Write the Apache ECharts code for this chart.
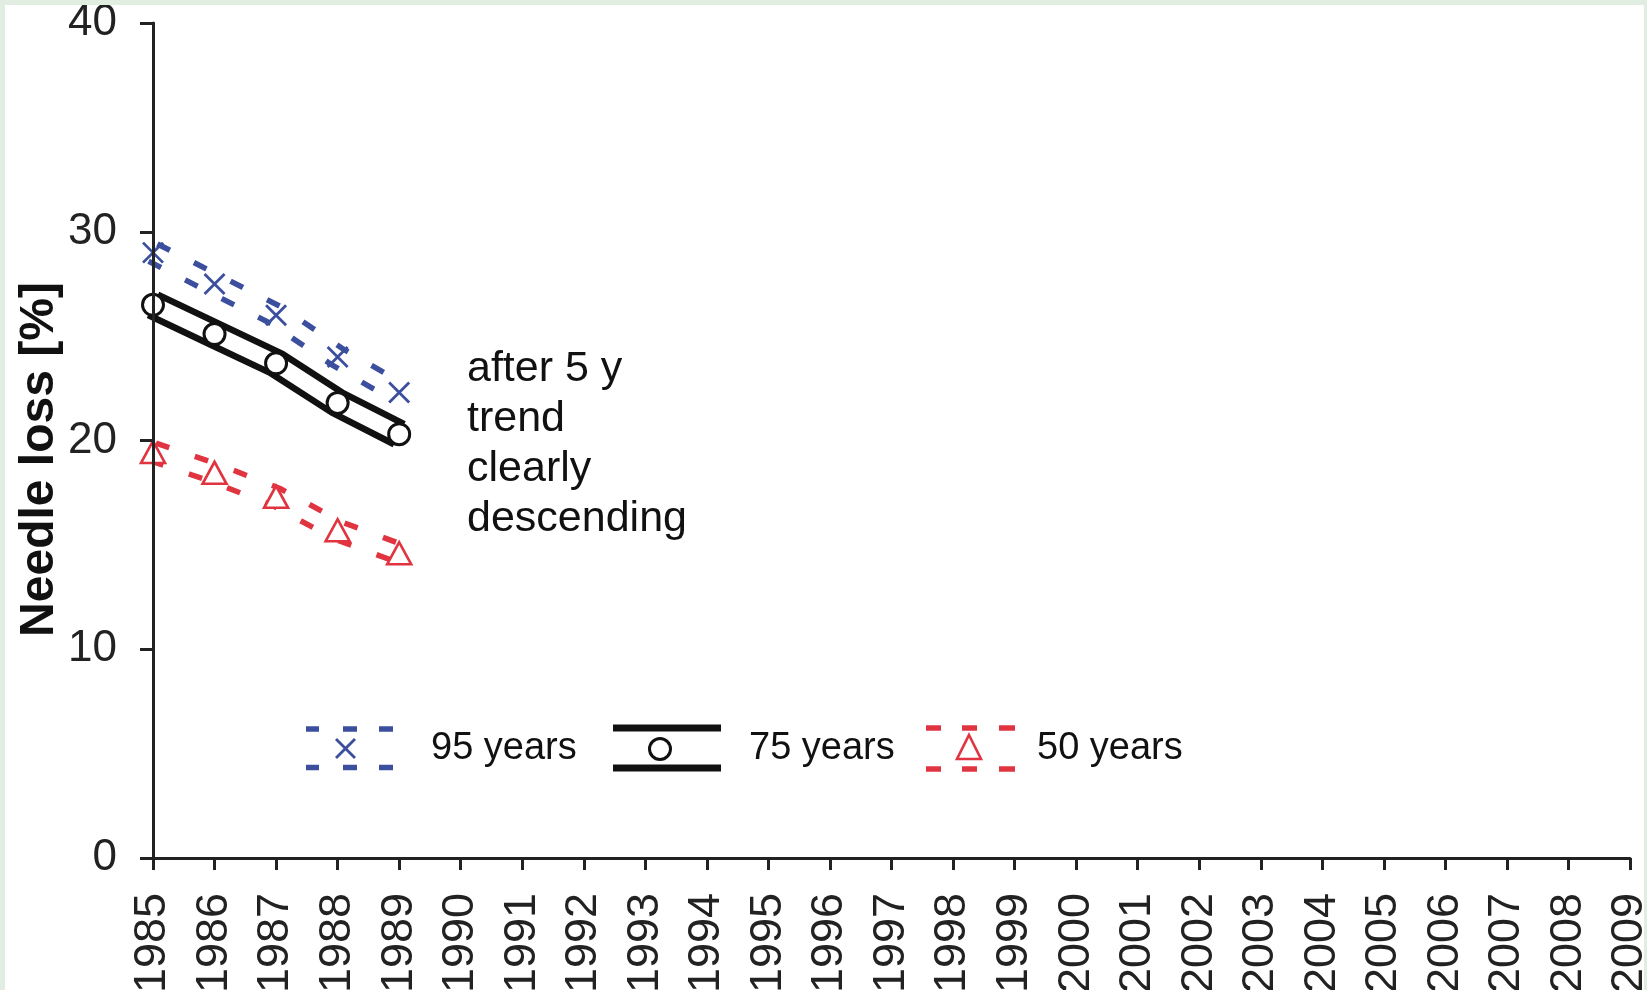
<!DOCTYPE html>
<html>
<head>
<meta charset="utf-8">
<script src="https://cdn.jsdelivr.net/npm/echarts@6/dist/echarts.min.js"></script>
<style>
  html, body { margin: 0; padding: 0; background: #e2ede1; width: 1647px; height: 990px; overflow: hidden; }
  #chart { position: absolute; left: 5px; top: 5px; width: 1639px; height: 985px; background: #ffffff; }
</style>
</head>
<body>
<div id="chart"></div>
<script>
// ---- data ----
const years = ['1985','1986','1987','1988','1989','1990','1991','1992','1993','1994','1995','1996','1997',
               '1998','1999','2000','2001','2002','2003','2004','2005','2006','2007','2008','2009'];
const seriesNames = ['95 years', '75 years', '50 years'];
const loss95 = [29.0, 27.5, 26.0, 24.0, 22.3];
const loss75 = [26.5, 25.1, 23.7, 21.8, 20.3];
const loss50 = [19.45, 18.45, 17.3, 15.7, 14.6];
const yMin = 0, yMax = 40, yStep = 10;
const yAxisTitle = 'Needle loss [%]';
const noteLines = ['after 5 y', 'trend', 'clearly', 'descending'];

// ---- styles ----
const FONT = 'Liberation Sans, Arial, Helvetica, sans-serif';
const BLUE = '#3b4f9e', BLACK = '#111111', RED = '#e03540';
const OX = 5, OY = 5; // chart div offset inside page

const groups = [
  { name: seriesNames[0], data: loss95, color: BLUE, dash: [14, 27], outer: 25, inner: 14,
    symbol: 'path://M0,0L10,10M10,0L0,10', symbolSize: 20, fill: 'rgba(0,0,0,0)', bw: 2.8 },
  { name: seriesNames[1], data: loss75, color: BLACK, dash: 'solid', outer: 29, inner: 16,
    symbol: 'circle', symbolSize: 21, fill: '#ffffff', bw: 3 },
  { name: seriesNames[2], data: loss50, color: RED, dash: [14, 27], outer: 24, inner: 13,
    symbol: 'triangle', symbolSize: [24, 22], fill: '#ffffff', bw: 2.6 }
];

const series = [];
groups.forEach(g => {
  series.push({
    type: 'line', name: g.name + ' band', data: g.data, symbol: 'none', silent: true, z: 2,
    lineStyle: { color: g.color, width: g.outer, type: g.dash, cap: 'butt', join: 'round' }
  });
});
groups.forEach(g => {
  series.push({
    type: 'line', name: g.name + ' core', data: g.data, symbol: 'none', silent: true, z: 3,
    lineStyle: { color: '#ffffff', width: g.inner, cap: 'butt', join: 'round' }
  });
});
groups.forEach(g => {
  series.push({
    type: 'line', name: g.name, data: g.data, z: 4, showSymbol: true,
    symbol: g.symbol, symbolSize: g.symbolSize,
    lineStyle: { opacity: 0 },
    itemStyle: { color: g.fill, borderColor: g.color, borderWidth: g.bw, opacity: 1 }
  });
});

// legend items (text via legend component, icons drawn with graphic)
const legendTextLeft = [430, 748, 1036];
const legends = seriesNames.map((n, i) => ({
  data: [n], selectedMode: false, orient: 'horizontal',
  left: legendTextLeft[i] - OX - 5 - 10 - 5, top: 748 - OY - 19 - 5,
  icon: 'rect', itemWidth: 10, itemHeight: 38, itemStyle: { opacity: 0 },
  textStyle: { fontSize: 38, color: '#111', fontFamily: FONT, lineHeight: 38 }
}));

function dashRect(x1, x2, y, h, color) {
  return { type: 'rect', shape: { x: x1 - OX, y: y - h / 2 - OY, width: x2 - x1, height: h },
           style: { fill: color }, silent: true };
}
const graphics = [];
// 95 years icon
[[306, 319], [343, 357], [379, 393]].forEach(d => {
  graphics.push(dashRect(d[0], d[1], 729, 5.5, BLUE));
  graphics.push(dashRect(d[0], d[1], 767.5, 5.5, BLUE));
});
graphics.push({ type: 'line', shape: { x1: 336 - OX, y1: 739 - OY, x2: 355 - OX, y2: 758 - OY },
  style: { stroke: BLUE, lineWidth: 2.8 }, silent: true });
graphics.push({ type: 'line', shape: { x1: 355 - OX, y1: 739 - OY, x2: 336 - OX, y2: 758 - OY },
  style: { stroke: BLUE, lineWidth: 2.8 }, silent: true });
// 75 years icon
graphics.push(dashRect(613, 721, 728, 7, BLACK));
graphics.push(dashRect(613, 721, 768, 7, BLACK));
graphics.push({ type: 'circle', shape: { cx: 660 - OX, cy: 749 - OY, r: 10.5 },
  style: { fill: '#fff', stroke: BLACK, lineWidth: 3 }, silent: true });
// 50 years icon
[[926, 941], [962, 977], [999, 1015]].forEach(d => {
  graphics.push(dashRect(d[0], d[1], 728, 5.5, RED));
  graphics.push(dashRect(d[0], d[1], 769, 5.5, RED));
});
graphics.push({ type: 'polygon', shape: { points: [[969 - OX, 735 - OY], [981 - OX, 759 - OY], [957 - OX, 759 - OY]] },
  style: { fill: '#fff', stroke: RED, lineWidth: 2.6 }, silent: true });
// annotation
graphics.push({ type: 'text', left: 467 - OX, top: 344 - OY, silent: true,
  style: { text: noteLines.join('\n'), fill: '#111', fontSize: 43, fontFamily: FONT, lineHeight: 50 } });

const chart = echarts.init(document.getElementById('chart'), null, { renderer: 'canvas' });
chart.setOption({
  animation: false,
  backgroundColor: '#ffffff',
  grid: { left: 153 - OX, top: 23 - OY, right: 1644 - 1630, bottom: 990 - 858,
          containLabel: false, outerBoundsMode: 'none' },
  legend: legends,
  xAxis: {
    type: 'category', data: years, boundaryGap: false,
    axisLine: { lineStyle: { color: '#222', width: 3 } },
    axisTick: { show: true, length: 12, lineStyle: { color: '#222', width: 3 } },
    axisLabel: { rotate: 90, interval: 0, fontSize: 45, margin: 35, color: '#222', fontFamily: FONT },
    splitLine: { show: false }
  },
  yAxis: {
    type: 'value', min: yMin, max: yMax, interval: yStep, z: 10,
    axisLine: { show: true, lineStyle: { color: '#222', width: 3 } },
    axisTick: { show: true, length: 13, lineStyle: { color: '#222', width: 3 } },
    axisLabel: { fontSize: 44, margin: 36, color: '#222', fontFamily: FONT },
    splitLine: { show: false },
    name: yAxisTitle, nameLocation: 'middle', nameGap: 89, nameRotate: 90, nameMoveOverlap: false,
    nameTextStyle: { fontSize: 48, fontWeight: 'bold', color: '#111', fontFamily: FONT, padding: [0, 38, 0, 0] }
  },
  graphic: graphics,
  series: series
});
</script>
</body>
</html>
